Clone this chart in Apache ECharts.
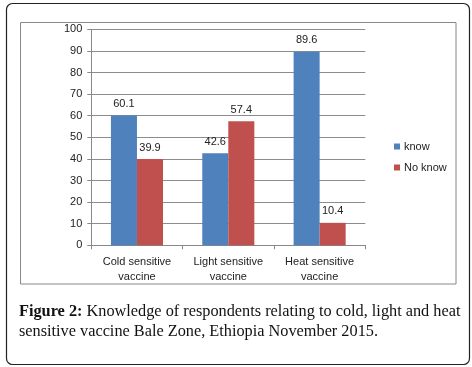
<!DOCTYPE html>
<html><head><meta charset="utf-8">
<script src="https://cdn.jsdelivr.net/npm/echarts@6/dist/echarts.min.js"></script>
<style>html,body{margin:0;padding:0;background:#fff}#c{width:472px;height:367px}</style>
</head><body><div id="c"></div>
<script>
const categories = ['Cold sensitive\nvaccine', 'Light sensitive\nvaccine', 'Heat sensitive\nvaccine'];
const knowValues = [60.1, 42.6, 89.6];
const noKnowValues = [39.9, 57.4, 10.4];
const seriesNames = ['know', 'No know'];
const yTicks = {min: 0, max: 100, interval: 10};

const chart = echarts.init(document.getElementById('c'), null, {renderer: 'canvas'});
const labelStyle = {show: true, position: 'top', distance: 6, color: '#222', fontFamily: 'Liberation Sans', fontSize: 11};
chart.setOption({
  animation: false,
  backgroundColor: '#fff',
  graphic: [
    {type: 'rect', shape: {x: 6.5, y: 3.5, width: 463, height: 361, r: 6}, style: {fill: 'none', stroke: '#222', lineWidth: 1.2}, z: -10},
    {type: 'rect', shape: {x: 20.5, y: 22.5, width: 435.5, height: 261.5}, style: {fill: 'none', stroke: '#888', lineWidth: 1}, z: -10}
  ],
  title: {
    left: 14, top: 297,
    text: '{b|Figure 2:} Knowledge of respondents relating to cold, light and heat\nsensitive vaccine Bale Zone, Ethiopia November 2015.',
    textStyle: {fontFamily: 'Liberation Serif', fontSize: 16.3, fontWeight: 'normal', color: '#111', lineHeight: 20,
      rich: {b: {fontFamily: 'Liberation Serif', fontSize: 16.3, fontWeight: 'bold', color: '#111', lineHeight: 20}}}
  },
  legend: {
    orient: 'vertical', left: 389, top: 136, itemWidth: 6, itemHeight: 6, itemGap: 10, icon: 'rect',
    textStyle: {fontFamily: 'Liberation Sans', fontSize: 11, color: '#222', padding: [0, 0, 0, -1]},
    data: seriesNames
  },
  grid: {left: 91.3, right: 106.7, top: 29.3, bottom: 121.7, containLabel: false},
  xAxis: {
    type: 'category', data: categories,
    axisLine: {lineStyle: {color: '#888'}},
    axisTick: {show: true, length: 4, lineStyle: {color: '#888'}},
    axisLabel: {fontFamily: 'Liberation Sans', fontSize: 11, color: '#222', lineHeight: 15, margin: 9, interval: 0}
  },
  yAxis: {
    type: 'value', min: yTicks.min, max: yTicks.max, interval: yTicks.interval,
    axisLine: {show: true, lineStyle: {color: '#888'}},
    axisTick: {show: true, length: 4, lineStyle: {color: '#888'}},
    splitLine: {lineStyle: {color: '#8c8c8c'}},
    axisLabel: {fontFamily: 'Liberation Sans', fontSize: 11, color: '#222', margin: 9}
  },
  series: [
    {name: seriesNames[0], type: 'bar', data: knowValues, itemStyle: {color: '#4F81BD'}, barGap: '0%', barCategoryGap: '43%', label: labelStyle},
    {name: seriesNames[1], type: 'bar', data: noKnowValues, itemStyle: {color: '#C0504D'}, label: labelStyle}
  ]
});
</script></body></html>
